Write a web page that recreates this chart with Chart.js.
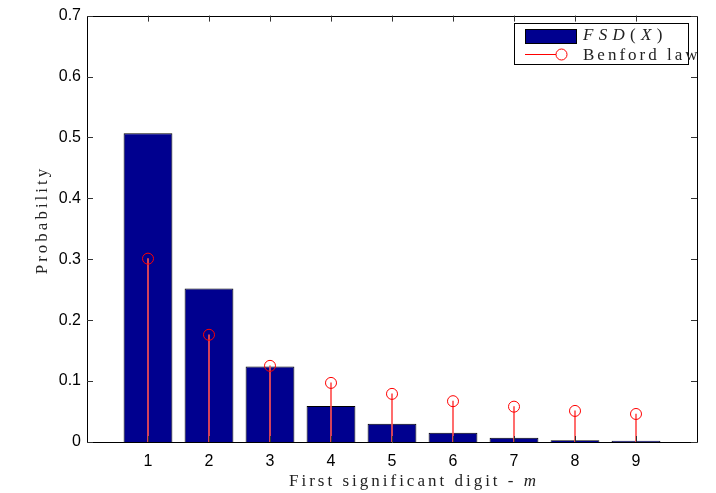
<!DOCTYPE html>
<html>
<head>
<meta charset="utf-8">
<script src="https://cdn.jsdelivr.net/npm/chart.js@4/dist/chart.umd.min.js"></script>
<style>
  html, body { margin: 0; padding: 0; background: #fff; }
  #wrap { width: 716px; height: 493px; }
</style>
</head>
<body>
<div id="wrap"><canvas id="c" width="716" height="493"></canvas></div>
<script>
// First significant digits and their probabilities
const digits = [1, 2, 3, 4, 5, 6, 7, 8, 9];
const fsdProb = [0.507, 0.252, 0.124, 0.059, 0.030, 0.015, 0.007, 0.003, 0.002];
const benfordProb = [0.301, 0.176, 0.125, 0.097, 0.079, 0.067, 0.058, 0.051, 0.046];
const yTicks = [0, 0.1, 0.2, 0.3, 0.4, 0.5, 0.6, 0.7];

const SANS = '"Liberation Sans", Arial, sans-serif';
const SERIF = '"Liberation Serif", "Times New Roman", serif';
const NAVY = '#00008f';
const RED = '#ff0000';

// Legend, axis titles, box and inward ticks on all four sides
const framePlugin = {
  id: 'frame',
  afterDraw(chart) {
    const { ctx, chartArea: a, scales: { x, y } } = chart;
    ctx.save();

    // x axis title
    ctx.fillStyle = '#222';
    ctx.textBaseline = 'alphabetic';
    ctx.textAlign = 'left';
    ctx.font = '17px ' + SERIF;
    ctx.letterSpacing = '3px';
    const main = 'First significant digit - ';
    const wMain = ctx.measureText(main).width;
    ctx.font = 'italic 17px ' + SERIF;
    const wM = ctx.measureText('m').width;
    const sx = 414 - (wMain + wM) / 2;
    ctx.font = '17px ' + SERIF;
    ctx.fillText(main, sx, 486);
    ctx.font = 'italic 17px ' + SERIF;
    ctx.fillText('m', sx + wMain, 486);

    // y axis title
    ctx.save();
    ctx.translate(47, 220);
    ctx.rotate(-Math.PI / 2);
    ctx.textAlign = 'center';
    ctx.font = '17px ' + SERIF;
    ctx.letterSpacing = '3px';
    ctx.fillText('Probability', 0, 0);
    ctx.restore();

    // legend
    ctx.letterSpacing = '0px';
    ctx.fillStyle = '#fff';
    ctx.fillRect(514, 23, 174, 41);
    ctx.strokeStyle = '#000';
    ctx.lineWidth = 1;
    ctx.strokeRect(514.5, 23.5, 174, 41);
    ctx.fillStyle = NAVY;
    ctx.fillRect(525, 29, 51, 14);
    ctx.strokeRect(525.5, 29.5, 51, 14);
    ctx.strokeStyle = RED;
    ctx.beginPath();
    ctx.moveTo(525, 54.5); ctx.lineTo(556, 54.5);
    ctx.stroke();
    ctx.beginPath();
    ctx.arc(561.5, 54.5, 5.5, 0, Math.PI * 2);
    ctx.stroke();
    ctx.fillStyle = '#222';
    ctx.letterSpacing = '5.3px';
    let lx = 583;
    [['FSD', true], ['(', false], ['X', true], [')', false]].forEach(([t, it]) => {
      ctx.font = (it ? 'italic ' : '') + '17px ' + SERIF;
      ctx.fillText(t, lx, 40);
      lx += ctx.measureText(t).width;
    });
    ctx.font = '17px ' + SERIF;
    ctx.letterSpacing = '3px';
    ctx.fillText('Benford law', 583, 60);
    ctx.letterSpacing = '0px';

    // axes box
    ctx.strokeStyle = '#000';
    ctx.beginPath();
    ctx.rect(Math.round(a.left) + 0.5, Math.round(a.top) + 0.5,
             Math.round(a.right - a.left), Math.round(a.bottom - a.top));
    ctx.stroke();
    ctx.strokeStyle = '#333';
    const tl = 6;
    ctx.beginPath();
    digits.forEach(d => {
      const px = Math.round(x.getPixelForValue(d)) + 0.5;
      ctx.moveTo(px, a.bottom); ctx.lineTo(px, a.bottom - tl);
      ctx.moveTo(px, a.top); ctx.lineTo(px, a.top + tl);
    });
    yTicks.forEach(v => {
      const py = Math.round(y.getPixelForValue(v)) + 0.5;
      ctx.moveTo(a.left, py); ctx.lineTo(a.left + tl, py);
      ctx.moveTo(a.right, py); ctx.lineTo(a.right - tl, py);
    });
    ctx.stroke();
    ctx.restore();
  }
};

new Chart(document.getElementById('c'), {
  data: {
    datasets: [
      {
        type: 'scatter',
        label: 'Benford law',
        data: digits.map((d, i) => ({ x: d, y: benfordProb[i] })),
        pointStyle: 'circle',
        pointRadius: 5.5,
        pointHoverRadius: 5.5,
        borderColor: RED,
        backgroundColor: 'rgba(0,0,0,0)',
        borderWidth: 1,
        order: 0
      },
      {
        type: 'bar',
        label: 'stems',
        data: digits.map((d, i) => ({ x: d, y: [0, benfordProb[i]] })),
        backgroundColor: '#ff5050',
        borderWidth: 0,
        barThickness: 1,
        grouped: false,
        order: 1
      },
      {
        type: 'bar',
        label: 'FSD(X)',
        data: digits.map((d, i) => ({ x: d, y: fsdProb[i] })),
        backgroundColor: NAVY,
        borderColor: '#000',
        borderWidth: 1,
        barPercentage: 0.8,
        categoryPercentage: 1,
        grouped: false,
        order: 2
      }
    ]
  },
  options: {
    responsive: false,
    animation: false,
    events: [],
    layout: { padding: { top: 15, right: 19, left: 0, bottom: 0 } },
    plugins: { legend: { display: false }, tooltip: { enabled: false } },
    scales: {
      x: {
        type: 'linear',
        min: 0,
        max: 10,
        offset: false,
        grid: { display: false, drawTicks: false },
        border: { display: false },
        afterBuildTicks(scale) { scale.ticks = digits.map(v => ({ value: v })); },
        ticks: {
          font: { family: SANS, size: 16 },
          color: '#000',
          padding: 10,
          maxRotation: 0,
          callback: v => String(v)
        },
        afterFit(scale) { scale.height = 51; }
      },
      y: {
        min: 0,
        max: 0.7,
        grid: { display: false, drawTicks: false },
        border: { display: false },
        afterBuildTicks(scale) { scale.ticks = yTicks.map(v => ({ value: v })); },
        ticks: {
          font: { family: SANS, size: 16 },
          color: '#000',
          padding: 6,
          callback: v => (v === 0 ? '0' : v.toFixed(1))
        },
        afterFit(scale) { scale.width = 87; }
      }
    }
  },
  plugins: [framePlugin]
});
</script>
</body>
</html>
